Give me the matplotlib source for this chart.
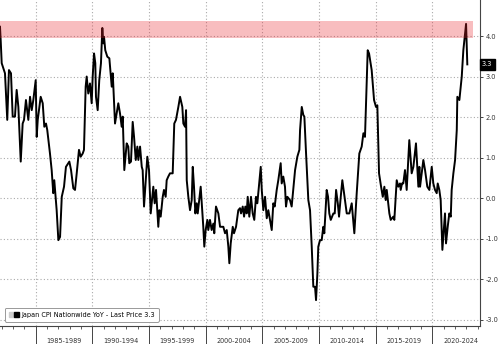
import matplotlib
matplotlib.use('Agg')
import matplotlib.pyplot as plt
from matplotlib.patches import Patch
from matplotlib.legend_handler import HandlerTuple
from matplotlib.ticker import FixedLocator, MultipleLocator

# Data: Japan CPI Nationwide YoY (%), dates as decimal years
dates_80s = [1981.85, 1981.91, 1982.00, 1982.29, 1982.49, 1982.64, 1982.82, 1982.97, 1983.17, 1983.32,
             1983.47, 1983.68, 1983.85, 1983.97, 1984.14, 1984.35, 1984.50, 1984.65, 1984.79, 1985.00,
             1985.09, 1985.18, 1985.44, 1985.62, 1985.76, 1985.91, 1986.02, 1986.26, 1986.41, 1986.55,
             1986.64, 1986.85, 1987.00, 1987.15, 1987.30, 1987.50, 1987.67, 1987.97, 1988.12, 1988.32,
             1988.47, 1988.62, 1988.82, 1988.97, 1989.15, 1989.26, 1989.41, 1989.50, 1989.64, 1989.79,
             1989.94]
cpi_80s = [4.23, 3.90, 3.33, 3.08, 1.93, 3.16, 3.08, 2.01, 2.01, 2.67,
           2.25, 0.90, 1.84, 1.93, 2.42, 1.93, 2.50, 2.17, 2.42, 2.91,
           1.51, 1.93, 2.50, 2.34, 1.76, 1.84, 1.68, 1.10, 0.69, 0.12,
           0.44, -0.30, -1.04, -0.96, 0.03, 0.28, 0.77, 0.90, 0.69, 0.24,
           0.20, 0.61, 1.19, 1.02, 1.10, 1.19, 2.75, 3.00, 2.58, 2.83,
           2.34]

dates_90s = [1990.03, 1990.15, 1990.26, 1990.32, 1990.47, 1990.61, 1990.76, 1990.88, 1990.97, 1991.03,
             1991.14, 1991.32, 1991.50, 1991.71, 1991.80, 1992.00, 1992.29, 1992.44, 1992.59, 1992.68,
             1992.82, 1993.03, 1993.17, 1993.26, 1993.41, 1993.56, 1993.68, 1993.83, 1993.97, 1994.06,
             1994.21, 1994.36, 1994.44, 1994.56, 1994.71, 1994.85, 1995.00, 1995.15, 1995.38, 1995.50,
             1995.62, 1995.82, 1995.91, 1996.03, 1996.21, 1996.32, 1996.47, 1996.56, 1996.70, 1996.85,
             1997.09, 1997.23, 1997.38, 1997.59, 1997.74, 1997.94, 1998.03, 1998.18, 1998.27, 1998.33,
             1998.47, 1998.62, 1998.77, 1998.86, 1998.97, 1999.09, 1999.21, 1999.30, 1999.56, 1999.71,
             1999.79, 1999.88]
cpi_90s = [3.00, 3.57, 3.33, 2.50, 2.17, 2.91, 3.33, 4.20, 3.82, 3.98,
           3.65, 3.49, 3.45, 2.75, 3.08, 1.84, 2.34, 2.09, 1.76, 2.01,
           0.69, 1.35, 1.27, 0.86, 0.90, 1.88, 1.51, 0.94, 1.27, 0.94,
           1.27, 0.77, 0.69, -0.21, 0.44, 1.02, 0.69, -0.38, 0.28, -0.13,
           0.20, -0.71, -0.30, -0.46, 0.03, 0.20, 0.03, 0.44, 0.53, 0.61,
           0.61, 1.84, 1.93, 2.25, 2.50, 2.25, 1.84, 1.76, 2.17, 0.44,
           0.03, -0.30, -0.05, 0.77, 0.28, -0.38, -0.13, -0.38, 0.28, -0.38,
           -0.71, -1.20]

dates_00s = [2000.00, 2000.15, 2000.23, 2000.38, 2000.53, 2000.68, 2000.76, 2000.91, 2001.12, 2001.27,
             2001.56, 2001.71, 2001.86, 2002.00, 2002.09, 2002.21, 2002.39, 2002.50, 2002.68, 2002.88,
             2003.03, 2003.12, 2003.27, 2003.39, 2003.50, 2003.62, 2003.71, 2003.85, 2004.00, 2004.15,
             2004.29, 2004.44, 2004.56, 2004.86, 2004.95, 2005.09, 2005.24, 2005.39, 2005.53, 2005.83,
             2005.97, 2006.09, 2006.27, 2006.41, 2006.62, 2006.71, 2006.85, 2007.00, 2007.09, 2007.21,
             2007.44, 2007.59, 2007.80, 2007.89, 2008.09, 2008.27, 2008.33, 2008.48, 2008.62, 2008.71,
             2008.86, 2009.06, 2009.21, 2009.36, 2009.50, 2009.65, 2009.74, 2009.86, 2009.94]
cpi_00s = [-0.79, -0.54, -0.79, -0.54, -0.79, -0.63, -0.87, -0.21, -0.38, -0.71,
           -0.71, -0.87, -0.79, -1.20, -1.61, -1.12, -0.71, -0.87, -0.71, -0.30,
           -0.25, -0.38, -0.21, -0.46, -0.21, -0.38, 0.03, -0.46, 0.03, -0.38,
           -0.54, 0.03, -0.13, 0.77, 0.20, -0.30, 0.03, -0.50, -0.30, -0.79,
           -0.13, -0.21, 0.20, 0.44, 0.86, 0.36, 0.53, 0.28, -0.21, 0.03,
           -0.05, -0.21, 0.44, 0.69, 1.02, 1.19, 1.68, 2.25, 2.05, 2.01,
           1.10, -0.05, -0.30, -1.20, -2.19, -2.19, -2.52, -1.86, -1.20]

dates_10s = [2010.09, 2010.24, 2010.38, 2010.47, 2010.68, 2010.80, 2010.91, 2011.04, 2011.27, 2011.39,
             2011.51, 2011.66, 2011.77, 2011.92, 2012.06, 2012.21, 2012.45, 2012.68, 2012.89, 2013.12,
             2013.33, 2013.56, 2013.77, 2013.92, 2014.06, 2014.15, 2014.30, 2014.42, 2014.65, 2014.86,
             2015.03, 2015.15, 2015.30, 2015.48, 2015.63, 2015.77, 2015.89, 2015.98, 2016.21, 2016.33,
             2016.56, 2016.65, 2016.86, 2017.00, 2017.15, 2017.21, 2017.33, 2017.44, 2017.59, 2017.74,
             2017.97, 2018.18, 2018.33, 2018.56, 2018.77, 2018.86, 2018.92, 2019.21, 2019.36, 2019.56,
             2019.74, 2019.95]
cpi_10s = [-1.04, -1.04, -0.71, -0.87, 0.20, 0.03, -0.38, -0.54, -0.38, -0.38,
           0.20, -0.13, -0.46, 0.03, 0.44, 0.12, -0.38, -0.38, -0.13, -0.87,
           0.12, 1.10, 1.27, 1.60, 1.51, 2.34, 3.65, 3.57, 3.16, 2.42,
           2.25, 2.29, 0.61, 0.28, 0.03, 0.28, -0.05, 0.20, -0.38, -0.54,
           -0.46, -0.54, 0.44, 0.28, 0.36, 0.20, 0.36, 0.36, 0.69, 0.20,
           1.43, 0.61, 0.77, 1.35, 0.28, 0.77, 0.28, 0.94, 0.69, 0.28,
           0.20, 0.77]

dates_20s = [2020.09, 2020.24, 2020.39, 2020.48, 2020.62, 2020.74, 2020.89, 2021.04, 2021.12, 2021.21,
             2021.36, 2021.50, 2021.63, 2021.71, 2021.86, 2022.01, 2022.16, 2022.21, 2022.39, 2022.60,
             2022.74, 2022.83, 2022.98, 2023.09]
cpi_20s = [0.36, 0.20, 0.12, 0.36, 0.20, -0.05, -1.28, -0.71, -0.38, -1.12,
           -0.71, -0.38, -0.46, 0.20, 0.61, 0.94, 1.68, 2.50, 2.42, 3.00,
           3.65, 3.90, 4.30, 3.30]

period_starts = [1985, 1990, 1995, 2000, 2005, 2010, 2015, 2020]
period_labels = ['1985-1989', '1990-1994', '1995-1999', '2000-2004',
                 '2005-2009', '2010-2014', '2015-2019', '2020-2024']
y_ticks = [-3, -2, -1, 0, 1, 2, 3, 4]
band_low, band_high = 3.95, 4.36
last_price = 3.3

dates = dates_80s + dates_90s + dates_00s + dates_10s + dates_20s
cpi = cpi_80s + cpi_90s + cpi_00s + cpi_10s + cpi_20s

plt.rcParams['font.family'] = ['DejaVu Sans']

fig = plt.figure(figsize=(5, 3.44), dpi=100)
ax = fig.add_axes([0, 0.0523, 0.96, 0.9477])

ax.plot(dates, cpi, color='black', linewidth=1.4, zorder=2)

# Highlight band (drawn above the line, translucent)
ax.axhspan(band_low, band_high, xmin=0, xmax=0.985, color='#e8262e', alpha=0.3, lw=0, zorder=3)

ax.set_xlim(1981.85, 2024.21)
ax.set_ylim(-3.16, 4.89)

# Spines
for side in ['top', 'left']:
    ax.spines[side].set_visible(False)
ax.spines['right'].set_color('#444444')
ax.spines['bottom'].set_color('#444444')
ax.spines['right'].set_linewidth(0.8)
ax.spines['bottom'].set_linewidth(0.8)

# Y axis on right
ax.yaxis.tick_right()
ax.set_yticks(y_ticks)
ax.set_yticklabels([f'{v:.1f}' for v in y_ticks])
ax.tick_params(axis='y', length=2.5, width=0.7, color='#444444', labelsize=4.8,
               labelcolor='#333333', pad=1.5)

# X axis: long separators at 5-year marks, small yearly ticks
ax.xaxis.set_major_locator(FixedLocator(period_starts))
ax.xaxis.set_minor_locator(MultipleLocator(1))
ax.set_xticklabels([])
ax.tick_params(axis='x', which='major', length=13, width=0.7, color='#444444')
ax.tick_params(axis='x', which='minor', length=2, width=0.6, color='#444444')

for start, lab in zip(period_starts, period_labels):
    ax.text(start + 2.5, -0.045, lab, transform=ax.get_xaxis_transform(),
            ha='center', va='center', fontsize=4.7, color='#333333')

# Grid
ax.grid(True, which='major', color='#aaaaaa', linestyle=(0, (1, 2)), linewidth=0.8)
ax.set_axisbelow(True)

# Last price tag
ax.text(1.004, last_price, f'{last_price:.1f}', transform=ax.get_yaxis_transform(),
        ha='left', va='center', fontsize=4.8, color='white',
        bbox=dict(boxstyle='square,pad=0.35', fc='black', ec='black'))

# Legend
handles = [(Patch(facecolor='#cccccc', edgecolor='#cccccc'), Patch(facecolor='black', edgecolor='black'))]
leg = ax.legend(handles, [f'Japan CPI Nationwide YoY - Last Price {last_price:.1f}'],
                handler_map={tuple: HandlerTuple(ndivide=None, pad=0.1)},
                loc='lower left', bbox_to_anchor=(0.003, 0.003), fontsize=4.7,
                handlelength=1.6, handleheight=0.9, handletextpad=0.3, borderpad=0.6,
                fancybox=True, framealpha=1, edgecolor='#999999')
leg.get_frame().set_linewidth(0.7)

plt.savefig('out.png', dpi=100)
